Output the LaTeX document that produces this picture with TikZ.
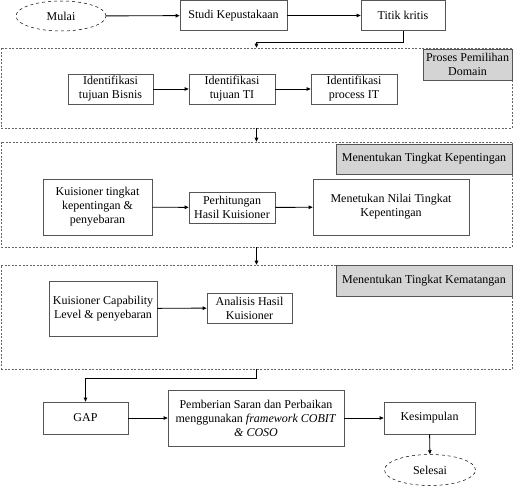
\documentclass[tikz,border=0pt]{standalone}
\usepackage{fontspec}
\setmainfont{Liberation Serif}
\usetikzlibrary{arrows.meta,positioning,shapes.geometric,calc}
\definecolor{tagfill}{HTML}{D4D4D4}
\definecolor{lineg}{HTML}{555555}

\begin{document}
\begin{tikzpicture}[x=1pt,y=-1pt,
    font=\fontsize{12}{14}\selectfont,
    blok/.style={draw=lineg,line width=0.7pt,inner sep=1pt,align=center},
    ujung/.style={ellipse,draw,dashed,line width=0.5pt,inner sep=0pt,
      minimum width=90,minimum height=30},
    grup/.style={draw=black!60,dash pattern=on 2pt off 1.5pt,line width=0.5pt,
      inner sep=0pt},
    judul/.style={draw=lineg,fill=tagfill,line width=0.7pt,inner sep=1pt,
      align=center},
    panah/.style={-{Triangle[length=4pt,width=3.5pt]},line width=0.9pt}]

  \useasboundingbox (0,0) rectangle (519,486);

  % ---- Top row -----------------------------------------------
  \node[ujung] (mulai) at (61,16) {Mulai};
  \node[blok,minimum width=107,minimum height=30] (studi) at (233.5,15.5)
    {Studi Kepustakaan};
  \node[blok,minimum width=84,minimum height=30] (titik) at (403,15.5)
    {Titik kritis};

  % ---- Proses Pemilihan Domain -------------------------------
  \node[grup,minimum width=511,minimum height=80] (dom) at (256.5,88) {};
  \node[judul,minimum width=89,minimum height=31] (tdom) at (467.5,64.5)
    {Proses Pemilihan\\Domain};
  \node[blok,minimum width=85,minimum height=30] (bisnis) at (110.5,89)
    {Identifikasi\\tujuan Bisnis};
  \node[blok,minimum width=86,minimum height=30] (tujti) at (232,89)
    {Identifikasi\\tujuan TI};
  \node[blok,minimum width=86,minimum height=30] (procit) at (354,89)
    {Identifikasi\\process IT};

  % ---- Menentukan Tingkat Kepentingan ------------------------
  \node[grup,minimum width=511,minimum height=105] (kep) at (256.5,194.5) {};
  \node[judul,minimum width=176,minimum height=30] (tkep) at (424,159)
    {Menentukan Tingkat Kepentingan};
  \node[blok,minimum width=109,minimum height=56] (kuis) at (97.5,207)
    {Kuisioner tingkat\\kepentingan \&\\penyebaran};
  \node[blok,minimum width=86,minimum height=31] (hitung) at (232,207.5)
    {Perhitungan\\Hasil Kuisioner};
  \node[blok,minimum width=156,minimum height=56] (nilai) at (391,207)
    {Menetukan Nilai Tingkat\\Kepentingan};

  % ---- Menentukan Tingkat Kematangan -------------------------
  \node[grup,minimum width=511,minimum height=104] (mat) at (256.5,317) {};
  \node[judul,minimum width=176,minimum height=31] (tmat) at (424,280.5)
    {Menentukan Tingkat Kematangan};
  \node[blok,minimum width=108,minimum height=55] (kuiscap) at (103,308.5)
    {Kuisioner Capability\\Level \& penyebaran};
  \node[blok,minimum width=85,minimum height=30] (analisis) at (249.5,308)
    {Analisis Hasil\\Kuisioner};

  % ---- Bottom row --------------------------------------------
  \node[blok,minimum width=85,minimum height=32] (gap) at (85.5,418) {GAP};
  \node[blok,minimum width=176,minimum height=56] (saran) at (256,418)
    {Pemberian Saran dan Perbaikan\\menggunakan \textit{framework COBIT}\\
     \textit{\& COSO}};
  \node[blok,minimum width=91,minimum height=32] (simpul) at (429.5,418)
    {Kesimpulan};
  \node[ujung,minimum width=91,minimum height=31] (selesai) at (430,470)
    {Selesai};

  % ---- Arrows ------------------------------------------------
  \draw[panah] (mulai) -- (studi);
  \draw[panah] (studi) -- (titik);
  \draw[panah] (titik.south) -- ++(0,12) -| (dom.north);
  \draw[panah] (bisnis) -- (tujti);
  \draw[panah] (tujti) -- (procit);
  \draw[panah] (dom.south) -- (kep.north);
  \draw[panah] (kuis) -- (hitung);
  \draw[panah] (hitung) -- (nilai);
  \draw[panah] (kep.south) -- (mat.north);
  \draw[panah] (kuiscap) -- (analisis);
  \draw[panah] (mat.south) -- ++(0,9) -| (gap.north);
  \draw[panah] (gap) -- (saran);
  \draw[panah] (saran) -- (simpul);
  \draw[panah] (simpul) -- (selesai);

\end{tikzpicture}
\end{document}
